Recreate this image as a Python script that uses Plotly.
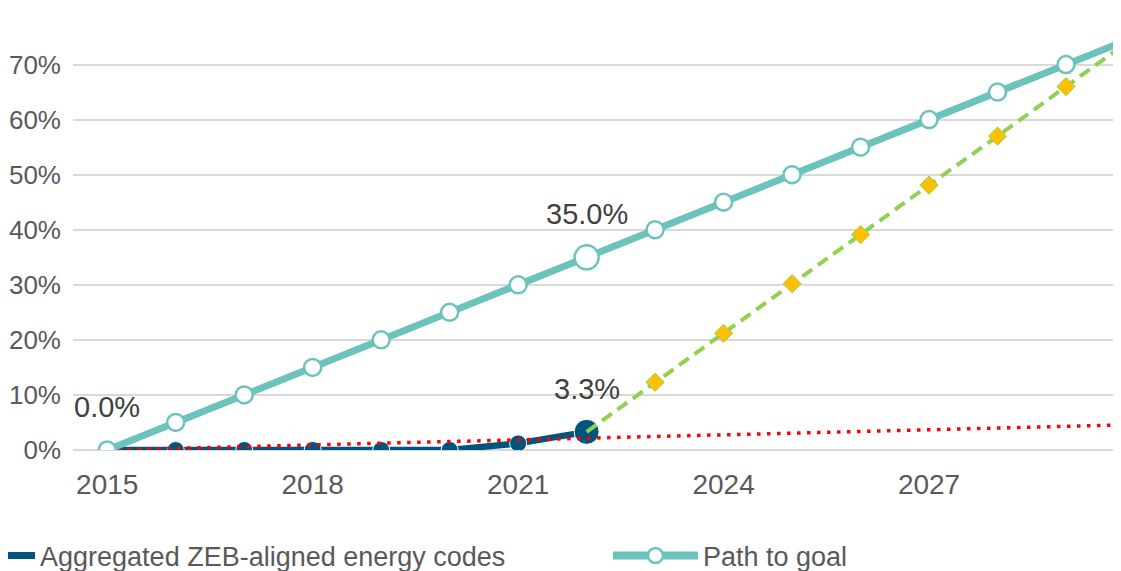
import plotly.graph_objects as go

# ---------- Data ----------
years = list(range(2015, 2031))
zeb_years = [2015, 2016, 2017, 2018, 2019, 2020, 2021, 2022]
zeb_codes = [0.0, 0.0, 0.0, 0.0, 0.0, 0.0, 1.2, 3.3]          # % aggregated ZEB-aligned codes
path_goal = [0, 5, 10, 15, 20, 25, 30, 35, 40, 45, 50, 55, 60, 65, 70, 75]
proj_years = [2022, 2023, 2024, 2025, 2026, 2027, 2028, 2029, 2030]
proj_needed = [3.3, 12.3, 21.2, 30.2, 39.1, 48.1, 57.0, 66.0, 75.0]
trend_years = [2015, 2030]
trend_vals = [0.0, 4.6]

BLUE = "#00557F"
TEAL = "#6CC3BC"
GREEN = "#92D050"
YELLOW = "#FFC000"
RED = "#FF0000"
GRID = "#D9D9D9"
FONT = "Liberation Sans, Arial, sans-serif"

fig = go.Figure()

# aggregated codes (drawn first, others sit on top)
fig.add_trace(go.Scatter(
    x=zeb_years, y=zeb_codes, mode="lines+markers", showlegend=False,
    line=dict(color=BLUE, width=6.5),
    marker=dict(color=BLUE, size=[17] * 7 + [25], opacity=1),
    hoverinfo="skip"))

# linear trend of current codes
fig.add_trace(go.Scatter(
    x=trend_years, y=trend_vals, mode="lines", showlegend=False,
    line=dict(color=RED, width=3.5, dash="3.5px,6.5px"), hoverinfo="skip"))

# rate needed from 2022 onwards
fig.add_trace(go.Scatter(
    x=proj_years, y=proj_needed, mode="lines+markers", showlegend=False,
    line=dict(color=GREEN, width=4, dash="12px,7px"),
    marker=dict(symbol="diamond", color=YELLOW, size=[0] + [14] * 8, opacity=1),
    hoverinfo="skip"))

# path to goal
sizes = [17] * len(years)
sizes[years.index(2022)] = 24
fig.add_trace(go.Scatter(
    x=years, y=path_goal, mode="lines+markers", showlegend=False,
    line=dict(color=TEAL, width=7),
    marker=dict(color="white", size=sizes, opacity=1,
                line=dict(color=TEAL, width=2.5)),
    hoverinfo="skip"))

# legend entries
fig.add_trace(go.Scatter(x=[None], y=[None], mode="lines",
                         name="Aggregated ZEB-aligned energy codes",
                         line=dict(color=BLUE, width=7), legend="legend"))
fig.add_trace(go.Scatter(x=[None], y=[None], mode="lines+markers",
                         name="Path to goal",
                         line=dict(color=TEAL, width=8),
                         marker=dict(color="white", size=15,
                                     line=dict(color=TEAL, width=2.5)),
                         legend="legend2"))

# data labels
labels = [
    (2015, path_goal[0], f"{path_goal[0]:.1f}%"),
    (2022, path_goal[years.index(2022)], f"{path_goal[years.index(2022)]:.1f}%"),
    (2022, zeb_codes[-1], f"{zeb_codes[-1]:.1f}%"),
]
for x, y, t in labels:
    fig.add_annotation(x=x, y=y, text=t, showarrow=False, yshift=43,
                       font=dict(size=29, color="#404040", family=FONT))

leg_font = dict(size=27, color="#595959", family=FONT)
fig.update_layout(
    width=1121, height=571,
    margin=dict(l=65, r=0, t=7, b=129, autoexpand=False),
    plot_bgcolor="white", paper_bgcolor="white",
    font=dict(family=FONT, color="#595959", size=27),
    legend=dict(orientation="h", x=-0.0691, xanchor="left",
                y=-0.2437, yanchor="middle", font=leg_font, itemwidth=30),
    legend2=dict(orientation="h", x=0.5066, xanchor="left",
                 y=-0.2437, yanchor="middle", font=leg_font, itemwidth=85),
)
fig.update_xaxes(range=[2014.5, 2029.92], tickmode="linear", tick0=2015, dtick=3,
                 showgrid=False, showline=False, zeroline=False, automargin=False,
                 ticklabelstandoff=15, tickfont=dict(size=28))
fig.update_yaxes(range=[0, 79], tickmode="linear", tick0=0, dtick=10,
                 ticksuffix="%", showgrid=True, gridcolor=GRID, gridwidth=2,
                 zeroline=True, zerolinecolor=GRID, zerolinewidth=2, automargin=False,
                 showline=False, ticklabelstandoff=11, tickfont=dict(size=26))

fig.write_html("out.html")
